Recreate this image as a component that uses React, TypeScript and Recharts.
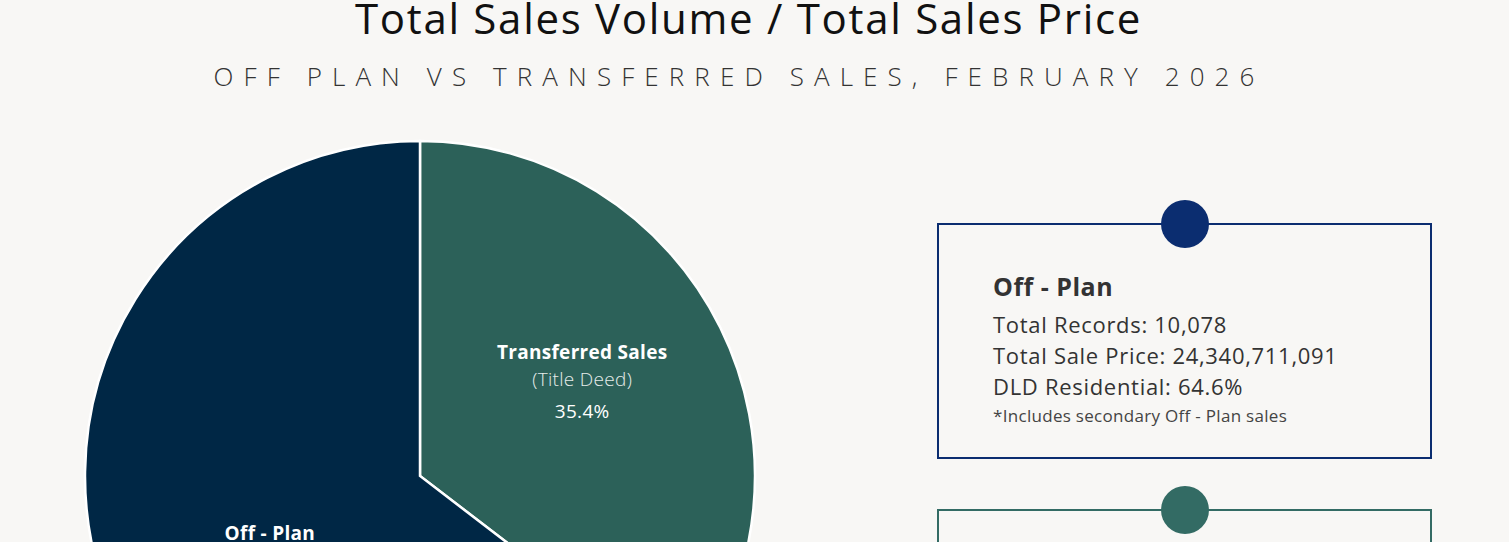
import React from "react";
import { PieChart, Pie, Cell } from "recharts";

const segmentNames = ["Transferred Sales", "Off - Plan"];
const segmentSubtitles = ["(Title Deed)", ""];
const segmentShares = [35.4, 64.6];
const segmentColors = ["#2c6159", "#002745"];

const cardTitles = ["Off - Plan", "Transferred Sales"];
const cardRecords = ["10,078", ""];
const cardPrices = ["24,340,711,091", ""];
const cardShares = ["64.6%", "35.4%"];
const cardNotes = ["*Includes secondary Off - Plan sales", ""];
const cardColors = ["#0b2d70", "#336b64"];

const FONT = "'Open Sans', Lato, sans-serif";
// label distance from centre, as a share of the radius, per slice
const labelRadius = [0.54, 0.5];

const data = segmentNames.map((name, i) => ({
    name,
    sub: segmentSubtitles[i],
    value: segmentShares[i],
}));

const RADIAN = Math.PI / 180;

const renderLabel = (props: any) => {
    const { cx, cy, midAngle, outerRadius, payload, index } = props;
    const r = outerRadius * labelRadius[index];
    const x = cx + r * Math.cos(-midAngle * RADIAN);
    const y = cy + r * Math.sin(-midAngle * RADIAN);
    const pct = `${payload.value.toFixed(1)}%`;
    const ls = 0.3;
    if (payload.sub) {
        return (
            <g key={`lbl-${index}`}>
                <text x={x} y={y - 37} textAnchor="middle" fill="#fff" fontSize={19} fontWeight={700} letterSpacing={ls} fontFamily={FONT}>{payload.name}</text>
                <text x={x} y={y - 10} textAnchor="middle" fill="#e6ecea" fontSize={19} fontWeight={300} letterSpacing={ls} fontFamily={FONT}>{payload.sub}</text>
                <text x={x} y={y + 22} textAnchor="middle" fill="#fff" fontSize={19} letterSpacing={ls} fontFamily={FONT}>{pct}</text>
            </g>
        );
    }
    return (
        <g key={`lbl-${index}`}>
            <text x={x} y={y - 10} textAnchor="middle" fill="#fff" fontSize={19} fontWeight={700} letterSpacing={ls} fontFamily={FONT}>{payload.name}</text>
            <text x={x} y={y + 22} textAnchor="middle" fill="#fff" fontSize={19} letterSpacing={ls} fontFamily={FONT}>{pct}</text>
        </g>
    );
};

const Card: React.FC<{ i: number; top: number }> = ({ i, top }) => {
    const color = cardColors[i];
    return (
        <div style={{ position: "absolute", left: 937, top, width: 495, height: 236, boxSizing: "border-box", border: `2px solid ${color}` }}>
            <div style={{ position: "absolute", left: 222, top: -25, width: 48, height: 48, borderRadius: "50%", background: color }} />
            <div style={{ position: "absolute", left: 54, top: 45, color: "#333", fontFamily: FONT }}>
                <div style={{ fontSize: 25, fontWeight: 700, letterSpacing: 0.5, lineHeight: "32px" }}>{cardTitles[i]}</div>
                {cardRecords[i] && (
                    <>
                        <div style={{ fontSize: 22, letterSpacing: 0.7, lineHeight: "31px", marginTop: 7 }}>Total Records: {cardRecords[i]}</div>
                        <div style={{ fontSize: 22, letterSpacing: 0.7, lineHeight: "31px" }}>Total Sale Price: {cardPrices[i]}</div>
                        <div style={{ fontSize: 22, letterSpacing: 0.7, lineHeight: "31px" }}>DLD Residential: {cardShares[i]}</div>
                        <div style={{ fontSize: 17, letterSpacing: 0.3, lineHeight: "28px", color: "#444" }}>{cardNotes[i]}</div>
                    </>
                )}
            </div>
        </div>
    );
};

export default function App() {
    return (
        <div style={{ position: "fixed", left: 0, top: 0, width: 1509, height: 542, overflow: "hidden", background: "#f8f7f5" }}>
            <div style={{ position: "absolute", left: 0, top: -11, width: 1497, textAlign: "center", fontFamily: FONT, fontSize: 42, letterSpacing: 1.7, color: "#111", lineHeight: "58px" }}>
                Total Sales Volume / Total Sales Price
            </div>
            <div style={{ position: "absolute", left: 0, top: 56, width: 1478, textAlign: "center", fontFamily: FONT, fontSize: 26, fontWeight: 300, letterSpacing: 10.1, color: "#333", lineHeight: "40px" }}>
                OFF PLAN VS TRANSFERRED SALES, FEBRUARY 2026
            </div>
            <div style={{ position: "absolute", left: 0, top: 0 }}>
                <PieChart width={840} height={542} margin={{ top: 0, right: 0, bottom: 0, left: 0 }}>
                    <Pie
                        data={data}
                        dataKey="value"
                        nameKey="name"
                        cx={420}
                        cy={476}
                        outerRadius={335}
                        startAngle={90}
                        endAngle={-270}
                        stroke="#ffffff"
                        strokeWidth={2.5}
                        label={renderLabel}
                        labelLine={false}
                        isAnimationActive={false}
                    >
                        {data.map((d, i) => (
                            <Cell key={d.name} fill={segmentColors[i]} />
                        ))}
                    </Pie>
                </PieChart>
            </div>
            <Card i={0} top={223} />
            <Card i={1} top={509} />
        </div>
    );
}
